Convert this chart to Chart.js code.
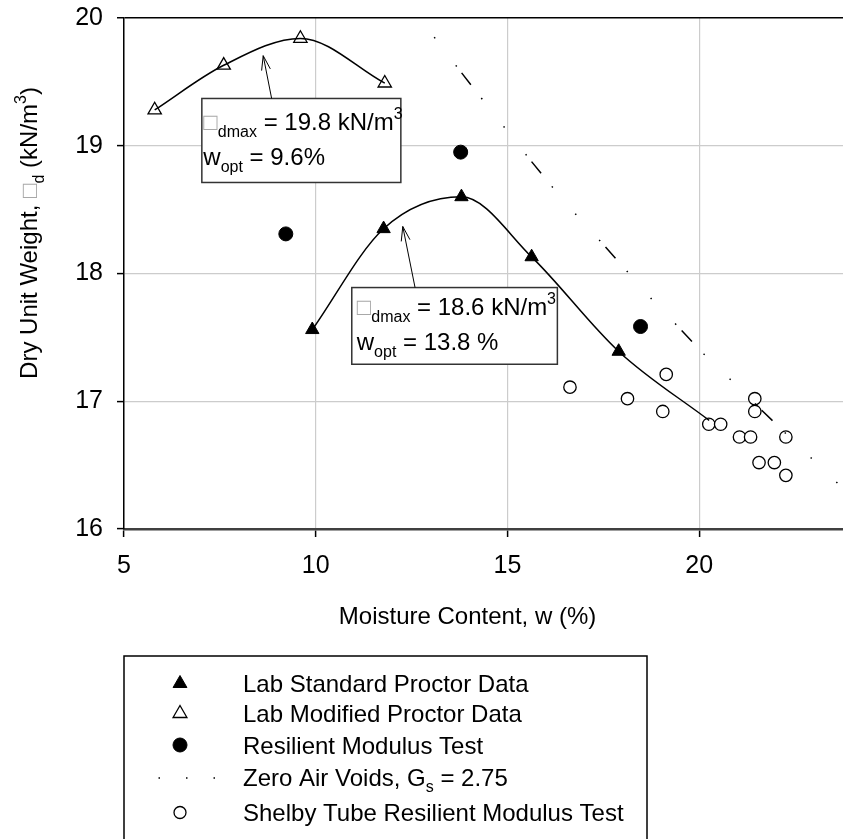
<!DOCTYPE html>
<html>
<head>
<meta charset="utf-8">
<script src="https://cdn.jsdelivr.net/npm/chart.js@4.4.1/dist/chart.umd.min.js"></script>
<style>
  body { margin: 0; background: #fff; }
  #wrap { width: 843px; height: 839px; }
</style>
</head>
<body>
<div id="wrap"><canvas id="proctor" width="843" height="839"></canvas></div>
<script>
// moisture content (%) and dry unit weight (kN/m3)
const standardW = [9.91, 11.77, 13.8, 15.63, 17.9]
const standardGamma = [17.56, 18.35, 18.6, 18.13, 17.39]
const standardCurveW = [9.91, 11.77, 13.8, 15.63, 17.9, 20.26]
const standardCurveGamma = [17.56, 18.35, 18.6, 18.13, 17.39, 16.85]

const modifiedW = [5.8, 7.6, 9.6, 11.8]
const modifiedGamma = [19.28, 19.63, 19.84, 19.49]

const resilientW = [9.22, 13.78, 18.47]
const resilientGamma = [18.31, 18.95, 17.585]

const zavW = [13.09, 13.65, 14.43, 15.01, 15.59, 16.19, 16.82, 17.46, 18.76, 19.43, 20.12, 20.85, 21.56, 23.01, 23.71]
const zavGamma = [19.85, 19.63, 19.33, 19.11, 18.89, 18.67, 18.45, 18.24, 17.8, 17.59, 17.37, 17.16, 16.95, 16.53, 16.33]

const shelbyW = [16.63, 18.13, 19.14, 19.05, 20.25, 20.56, 21.45, 21.45, 21.05, 21.34, 22.26, 21.56, 21.96, 22.26]
const shelbyGamma = [17.11, 17.02, 17.21, 16.92, 16.82, 16.82, 17.02, 16.92, 16.72, 16.72, 16.72, 16.52, 16.52, 16.42]

const xTicks = [5, 10, 15, 20]
const yTicks = [16, 17, 18, 19, 20]
const xRange = [5, 23.75]
const yRange = [16, 20]

const black = '#000000'
const gridGrey = '#cccccc'
const missingGlyph = '#a8a8a8'
const fontFamily = "'Liberation Sans', Arial, sans-serif"
const zavDash = [1.5, 34, 1.5, 8, 15, 17, 1.5, 34.5]

const toPoints = (xs, ys) => xs.map((x, i) => ({ x, y: ys[i] }))

// rich text pieces: sub / sup / missing gamma glyph
const yTitle = [
  { t: 'Dry Unit Weight, ' },
  { t: '\u25A1', glyph: true },
  { t: 'd', sub: true },
  { t: ' (kN/m' },
  { t: '3', sup: true },
  { t: ')' },
]
const xTitle = [{ t: 'Moisture Content, w (%)' }]

const annotations = [
  { x: 7.03, y: 19.37, w: 199, h: 84, pad: 1.5, base1: 31.4, base2: 66.4, gamma: '19.8 kN/m', wopt: '9.6%', from: [8.85, 19.37], to: [8.63, 19.705] },
  { x: 10.94, y: 17.89, w: 205.6, h: 76.7, pad: 5, base1: 27.7, base2: 62.7, gamma: '18.6 kN/m', wopt: '13.8 %', from: [12.59, 17.89], to: [12.27, 18.368] },
]

function partFont(p, size) {
  if (p.sub || p.sup) return Math.round(size * 0.67)
  return size
}

function drawRich(ctx, parts, x, y, size) {
  let cx = x
  parts.forEach((p) => {
    let dy = 0
    if (p.sub) dy = size * 0.28
    if (p.sup) dy = -size * 0.46
    ctx.font = `${partFont(p, size)}px ${fontFamily}`
    ctx.fillStyle = p.glyph ? missingGlyph : black
    ctx.fillText(p.t, cx, y + dy)
    cx += ctx.measureText(p.t).width
  })
  return cx - x
}

function richWidth(ctx, parts, size) {
  let w = 0
  parts.forEach((p) => {
    ctx.font = `${partFont(p, size)}px ${fontFamily}`
    w += ctx.measureText(p.t).width
  })
  return w
}

const titlesPlugin = {
  id: 'titles',
  afterDraw(chart) {
    const { ctx } = chart
    ctx.save()
    ctx.textAlign = 'left'
    ctx.textBaseline = 'alphabetic'
    const xw = richWidth(ctx, xTitle, 24)
    drawRich(ctx, xTitle, 467.5 - xw / 2, 624, 24)
    ctx.translate(37, 233)
    ctx.rotate(-Math.PI / 2)
    const yw = richWidth(ctx, yTitle, 24)
    drawRich(ctx, yTitle, -yw / 2, 0, 24)
    ctx.restore()
  },
}

const annotationPlugin = {
  id: 'boxes',
  afterDatasetsDraw(chart) {
    const { ctx } = chart
    const xs = chart.scales.x
    const ys = chart.scales.y
    ctx.save()
    annotations.forEach((a) => {
      const left = xs.getPixelForValue(a.x)
      const top = ys.getPixelForValue(a.y)
      ctx.fillStyle = '#ffffff'
      ctx.fillRect(left, top, a.w, a.h)
      ctx.strokeStyle = '#333333'
      ctx.lineWidth = 1.5
      ctx.strokeRect(left, top, a.w, a.h)
      ctx.textAlign = 'left'
      ctx.textBaseline = 'alphabetic'
      drawRich(ctx, [
        { t: '\u25A1', glyph: true },
        { t: 'dmax', sub: true },
        { t: ` = ${a.gamma}` },
        { t: '3', sup: true },
      ], left + a.pad, top + a.base1, 24)
      drawRich(ctx, [
        { t: 'w' },
        { t: 'opt', sub: true },
        { t: ` = ${a.wopt}` },
      ], left + a.pad, top + a.base2, 24)

      // leader arrow to the curve
      const x0 = xs.getPixelForValue(a.from[0])
      const y0 = ys.getPixelForValue(a.from[1])
      const x1 = xs.getPixelForValue(a.to[0])
      const y1 = ys.getPixelForValue(a.to[1])
      const ang = Math.atan2(y1 - y0, x1 - x0)
      ctx.strokeStyle = black
      ctx.lineWidth = 1
      ctx.beginPath()
      ctx.moveTo(x0, y0)
      ctx.lineTo(x1, y1)
      ctx.moveTo(x1 - 15 * Math.cos(ang - 0.3), y1 - 15 * Math.sin(ang - 0.3))
      ctx.lineTo(x1, y1)
      ctx.lineTo(x1 - 15 * Math.cos(ang + 0.3), y1 - 15 * Math.sin(ang + 0.3))
      ctx.stroke()
    })
    ctx.restore()
  },
}

const legendPlugin = {
  id: 'boxLegend',
  afterDraw(chart) {
    const { ctx } = chart
    const box = { left: 124, top: 656, right: 647, bottom: 860 }
    const rows = [683.5, 713.5, 745, 777, 812.5]
    const markerX = 180
    const textX = 243
    ctx.save()
    ctx.strokeStyle = black
    ctx.lineWidth = 1.5
    ctx.strokeRect(box.left, box.top, box.right - box.left, box.bottom - box.top)
    chart.data.datasets.filter((d) => d.legendRow !== undefined).forEach((d) => {
      const y = rows[d.legendRow]
      if (d.showLine) {
        ctx.strokeStyle = d.borderColor
        ctx.lineWidth = d.borderWidth
        ctx.setLineDash([1.5, 26])
        ctx.beginPath()
        ctx.moveTo(158.5, y + 1)
        ctx.lineTo(216, y + 1)
        ctx.stroke()
        ctx.setLineDash([])
      } else {
        ctx.fillStyle = d.backgroundColor
        ctx.strokeStyle = d.borderColor
        ctx.lineWidth = d.borderWidth
        Chart.helpers.drawPoint(ctx, {
          pointStyle: d.pointStyle,
          radius: d.legendRadius,
          borderWidth: d.borderWidth,
          rotation: 0,
        }, markerX, y)
      }
      ctx.textAlign = 'left'
      ctx.textBaseline = 'alphabetic'
      drawRich(ctx, d.legendText, textX, y + 8.6, 24)
    })
    ctx.restore()
  },
}

// keep the plot box where the figure has it: no label overhang padding
const noOverhang = (scale) => {
  scale.paddingLeft = 0
  scale.paddingRight = 0
  scale.paddingTop = 0
  scale.paddingBottom = 0
}

Chart.defaults.font.family = fontFamily
Chart.defaults.font.size = 24
Chart.defaults.color = black

const chart = new Chart(document.getElementById('proctor'), {
  type: 'scatter',
  data: {
    datasets: [
      {
        data: toPoints(standardCurveW, standardCurveGamma),
        showLine: true,
        borderColor: black,
        borderWidth: 1.5,
        pointRadius: 0,
        cubicInterpolationMode: 'monotone',
      },
      {
        data: toPoints(modifiedW, modifiedGamma),
        showLine: true,
        borderColor: black,
        borderWidth: 1.5,
        pointRadius: 0,
        cubicInterpolationMode: 'monotone',
      },
      {
        label: 'Zero Air Voids, Gs = 2.75',
        legendRow: 3,
        legendText: [{ t: 'Zero Air Voids, G' }, { t: 's', sub: true }, { t: ' = 2.75' }],
        data: toPoints(zavW, zavGamma),
        showLine: true,
        borderColor: black,
        borderWidth: 1.5,
        borderDash: zavDash,
        pointRadius: 0,
        tension: 0,
      },
      {
        label: 'Lab Standard Proctor Data',
        legendRow: 0,
        legendText: [{ t: 'Lab Standard Proctor Data' }],
        legendRadius: 8,
        data: toPoints(standardW, standardGamma),
        pointStyle: 'triangle',
        pointRadius: 7.7,
        backgroundColor: black,
        borderColor: black,
        borderWidth: 1,
      },
      {
        label: 'Lab Modified Proctor Data',
        legendRow: 1,
        legendText: [{ t: 'Lab Modified Proctor Data' }],
        legendRadius: 8,
        data: toPoints(modifiedW, modifiedGamma),
        pointStyle: 'triangle',
        pointRadius: 7.7,
        backgroundColor: '#ffffff',
        borderColor: black,
        borderWidth: 1.3,
      },
      {
        label: 'Resilient Modulus Test',
        legendRow: 2,
        legendText: [{ t: 'Resilient Modulus Test' }],
        legendRadius: 7,
        data: toPoints(resilientW, resilientGamma),
        pointStyle: 'circle',
        pointRadius: 7,
        backgroundColor: black,
        borderColor: black,
        borderWidth: 1,
      },
      {
        label: 'Shelby Tube Resilient Modulus Test',
        legendRow: 4,
        legendText: [{ t: 'Shelby Tube Resilient Modulus Test' }],
        legendRadius: 6,
        data: toPoints(shelbyW, shelbyGamma),
        pointStyle: 'circle',
        pointRadius: 6.2,
        backgroundColor: '#ffffff',
        borderColor: black,
        borderWidth: 1.3,
      },
    ],
  },
  options: {
    responsive: false,
    devicePixelRatio: 1,
    animation: false,
    layout: { autoPadding: false, padding: { top: 18, right: 0, bottom: 0, left: 0 } },
    plugins: {
      legend: { display: false },
      tooltip: { enabled: false },
    },
    scales: {
      x: {
        type: 'linear',
        min: xRange[0],
        max: xRange[1],
        afterBuildTicks: (scale) => { scale.ticks = xTicks.map((value) => ({ value })) },
        afterFit: (scale) => { scale.height = 310; noOverhang(scale) },
        ticks: { padding: 14, font: { size: 25 }, callback: (v) => v },
        grid: { color: gridGrey, lineWidth: 1.2, tickColor: black, tickLength: 8, tickWidth: 1.5 },
        border: { color: '#404040', width: 2.5 },
      },
      y: {
        min: yRange[0],
        max: yRange[1],
        afterBuildTicks: (scale) => { scale.ticks = yTicks.map((value) => ({ value })) },
        afterFit: (scale) => { scale.width = 124; noOverhang(scale) },
        ticks: { padding: 14, font: { size: 25 }, callback: (v) => v },
        grid: {
          color: (c) => (c.tick && c.tick.value === 20 ? black : gridGrey),
          lineWidth: (c) => (c.tick && c.tick.value === 20 ? 1.5 : 1.2),
          tickColor: black,
          tickLength: 7,
          tickWidth: 1.5,
        },
        border: { color: black, width: 1.5 },
      },
    },
  },
  plugins: [annotationPlugin, titlesPlugin, legendPlugin],
})
</script>
</body>
</html>
